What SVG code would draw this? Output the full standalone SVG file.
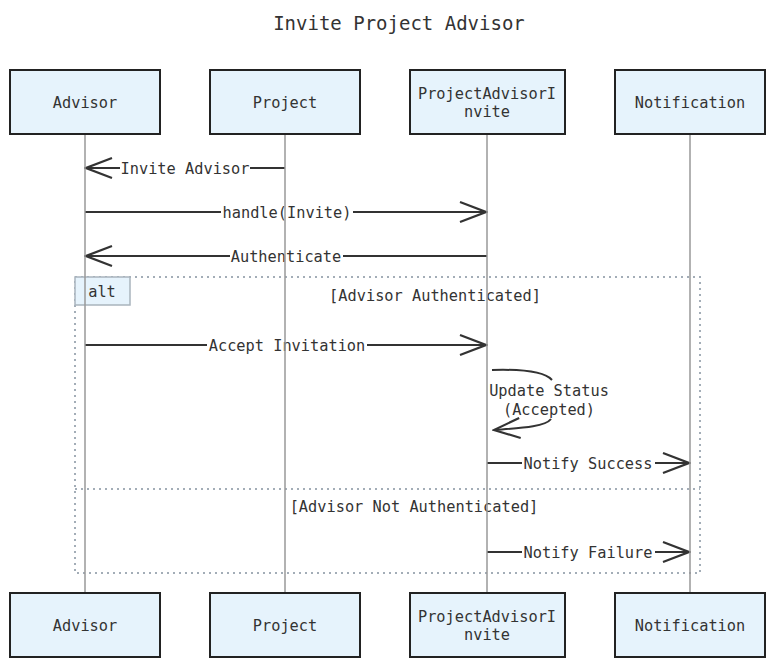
<svg xmlns="http://www.w3.org/2000/svg" width="775" height="668" viewBox="0 0 775 668">
<style>
text{font-family:"DejaVu Sans Mono","Liberation Mono",monospace;fill:#333;}
.actor rect{fill:#e6f3fc;stroke:#222;stroke-width:2;}
.actor text{font-size:15.3px;text-anchor:middle;dominant-baseline:central;}
.life{stroke:#999;stroke-width:1.5;}
.msg{stroke:#333;stroke-width:2;fill:none;}
.lbl{font-size:15.3px;text-anchor:middle;dominant-baseline:central;}
.bg{fill:#fff;}
.dot{stroke:#a3adb7;stroke-width:2;stroke-dasharray:2 4;fill:none;}
</style>
<defs>
<marker id="arr" viewBox="0 0 30 24" refX="28" refY="12" markerWidth="30" markerHeight="24" markerUnits="userSpaceOnUse" orient="auto">
<path d="M2 2 L28 12 L2 22" fill="none" stroke="#333" stroke-width="2.2"/>
</marker>
</defs>
<text x="399" y="23" style="font-size:19px;text-anchor:middle;dominant-baseline:central;">Invite Project Advisor</text>

<g id="connectors">
<g id="m1"><line class="msg" x1="285" y1="168" x2="86" y2="168" marker-end="url(#arr)"/><rect class="bg" x="120" y="160" width="130" height="17"/><text class="lbl" x="185" y="169">Invite Advisor</text></g>
<g id="m2"><line class="msg" x1="85" y1="212" x2="486" y2="212" marker-end="url(#arr)"/><rect class="bg" x="221" y="204" width="132" height="17"/><text class="lbl" x="287" y="213">handle(Invite)</text></g>
<g id="m3"><line class="msg" x1="487" y1="256" x2="86" y2="256" marker-end="url(#arr)"/><rect class="bg" x="230" y="248" width="113" height="17"/><text class="lbl" x="286" y="257">Authenticate</text></g>
<g id="m4"><line class="msg" x1="85" y1="345" x2="486" y2="345" marker-end="url(#arr)"/><rect class="bg" x="207" y="337" width="160" height="17"/><text class="lbl" x="287" y="346">Accept Invitation</text></g>
<g id="m5"><path class="msg" d="M492 370 C525 369 545 372 552 380 M551 419 C545 427 520 428 494 430" marker-end="url(#arr)"/><text class="lbl" x="549" y="391">Update Status</text><text class="lbl" x="549" y="410">(Accepted)</text></g>
<g id="m6"><line class="msg" x1="487" y1="463" x2="689" y2="463" marker-end="url(#arr)"/><rect class="bg" x="522" y="455" width="133" height="17"/><text class="lbl" x="588" y="464">Notify Success</text></g>
<g id="m7"><line class="msg" x1="487" y1="552" x2="689" y2="552" marker-end="url(#arr)"/><rect class="bg" x="522" y="544" width="133" height="17"/><text class="lbl" x="588" y="553">Notify Failure</text></g>
</g>

<g id="alt">
<rect class="dot" x="75" y="277" width="625" height="296"/>
<line class="dot" x1="75" y1="489" x2="700" y2="489"/>
<rect x="75" y="277" width="55" height="28" fill="#e6f3fc" stroke="#a9b4bd" stroke-width="1.5"/>
<text class="lbl" x="102" y="292">alt</text>
<text class="lbl" x="435" y="296">[Advisor Authenticated]</text>
<text class="lbl" x="414" y="507">[Advisor Not Authenticated]</text>
</g>

<g id="lifelines">
<line class="life" x1="85" y1="134" x2="85" y2="593"/>
<line class="life" x1="285" y1="134" x2="285" y2="593"/>
<line class="life" x1="487" y1="134" x2="487" y2="593"/>
<line class="life" x1="690" y1="134" x2="690" y2="593"/>
</g>

<g id="advisor" class="actor"><rect x="10" y="70" width="150" height="64"/><text x="85" y="103">Advisor</text></g>
<g id="project" class="actor"><rect x="210" y="70" width="150" height="64"/><text x="285" y="103">Project</text></g>
<g id="pai" class="actor"><rect x="410" y="70" width="155" height="64"/><text x="487" y="94">ProjectAdvisorI</text><text x="487" y="112">nvite</text></g>
<g id="notification" class="actor"><rect x="615" y="70" width="150" height="64"/><text x="690" y="103">Notification</text></g>

<g id="advisor-b" class="actor"><rect x="10" y="593" width="150" height="64"/><text x="85" y="626">Advisor</text></g>
<g id="project-b" class="actor"><rect x="210" y="593" width="150" height="64"/><text x="285" y="626">Project</text></g>
<g id="pai-b" class="actor"><rect x="410" y="593" width="155" height="64"/><text x="487" y="617">ProjectAdvisorI</text><text x="487" y="635">nvite</text></g>
<g id="notification-b" class="actor"><rect x="615" y="593" width="150" height="64"/><text x="690" y="626">Notification</text></g>
</svg>
